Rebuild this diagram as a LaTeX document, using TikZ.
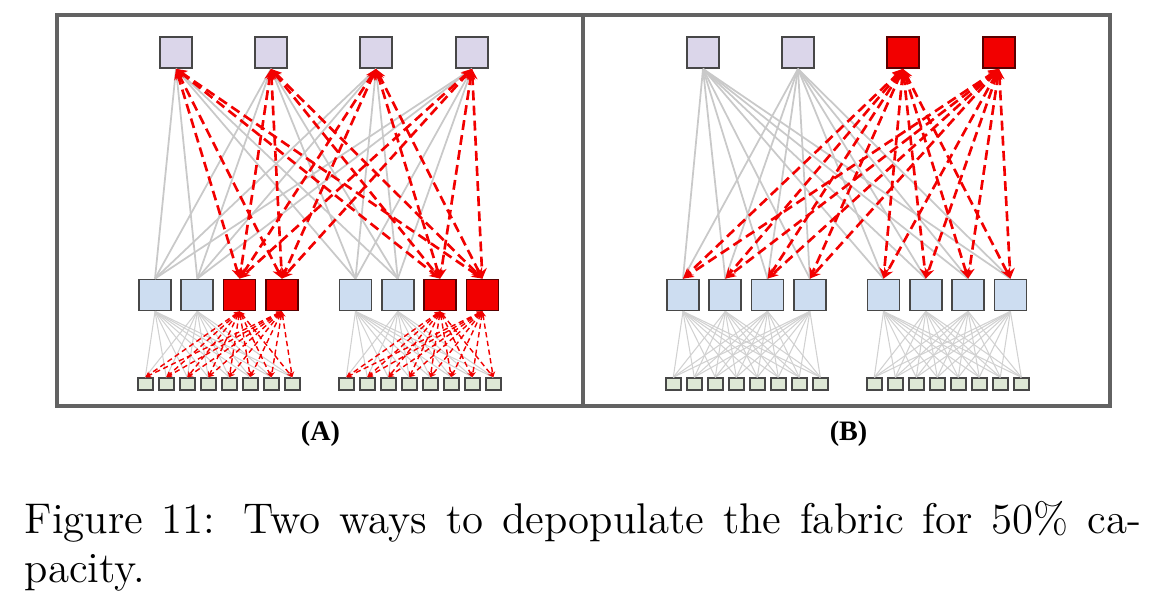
\documentclass[tikz,border=0pt]{standalone}
\usepackage{tikz}
\usepackage{color}
\usepackage{fontspec}
\usetikzlibrary{arrows.meta}
\newfontfamily\panelfont{Liberation Serif}
\definecolor{spinefill}{HTML}{DBD6EA}
\definecolor{leaffill}{HTML}{CDDDF1}
\definecolor{torfill}{HTML}{DEE8D6}
\definecolor{hotred}{HTML}{F20000}
\definecolor{linkgray}{HTML}{C9C9C9}
\definecolor{framegray}{HTML}{626262}

\begin{document}
\begin{tikzpicture}[x=0.01cm, y=-0.01cm,
	box/.style={draw=black!72, line width=0.5pt, rectangle, inner sep=0pt},
	spine/.style={box, minimum width=0.32cm, minimum height=0.31cm, fill=spinefill},
	leaf/.style={box, minimum width=0.32cm, minimum height=0.31cm, fill=leaffill},
	tor/.style={box, line width=0.45pt, minimum width=0.15cm, minimum height=0.12cm, fill=torfill},
	hotbox/.style={fill=hotred, draw=red!35!black},
	uplink/.style={draw=linkgray, line width=0.5pt},
	uplinkhot/.style={draw=hotred, line width=0.75pt, dash pattern=on 2.8pt off 1.5pt, {Stealth[length=3pt,width=2.8pt]}-{Stealth[length=3pt,width=2.8pt]}},
	downlink/.style={draw=linkgray!85, line width=0.3pt},
	downlinkhot/.style={draw=hotred, line width=0.4pt, dash pattern=on 1.5pt off 1pt, {Stealth[length=1.6pt,width=1.6pt]}-{Stealth[length=1.6pt,width=1.6pt]}}]
	\useasboundingbox (0,0) rectangle (1160,614);

	% frames
	\draw[framegray, line width=0.9pt] (57,15) rectangle (1110,406);
	\draw[framegray, line width=0.9pt] (583,15) -- (583,406);

	% (A): half of each leaf switched off
	\foreach \x [count=\i] in {176,271,376,472}
		\node[spine] (sA\i)at(\x, 52.5) {};
	\foreach \p in {0,1} {
		\foreach \i in {1,...,4}
			\node[leaf] (lA\p\i)at(155+42.3*\i-42.3+200.5*\p, 295) {};
		\foreach \i in {1,...,8}
			\node[tor] (tA\p\i)at(145.3+21*\i-21+201*\p, 384) {};
	}
	\foreach \p in {0,1}
		\foreach \i in {3,4}
			\node[leaf, hotbox] at (lA\p\i) {};

	% (B): half of the spines switched off
	\foreach \x [count=\i] in {703,798,903,999}
		\node[spine] (sB\i)at(\x, 52.5) {};
	\foreach \i in {3,4}
		\node[spine, hotbox] at (sB\i) {};
	\foreach \p in {0,1} {
		\foreach \i in {1,...,4}
			\node[leaf] (lB\p\i)at(683+42.3*\i-42.3+200.5*\p, 295) {};
		\foreach \i in {1,...,8}
			\node[tor] (tB\p\i)at(673.3+21*\i-21+201*\p, 384) {};
	}

	% links of (A)
	\foreach \s in {1,...,4}
		\foreach \p in {0,1}
			\foreach \i in {1,2}
				\draw[uplink] (sA\s.south) -- (lA\p\i.north);
	\foreach \p in {0,1}
		\foreach \i in {1,2}
			\foreach \t in {1,...,8}
				\draw[downlink] (lA\p\i.south) -- (tA\p\t.north);
	\foreach \s in {1,...,4}
		\foreach \p in {0,1}
			\foreach \i in {3,4}
				\draw[uplinkhot] (sA\s.south) -- (lA\p\i.north);
	\foreach \p in {0,1}
		\foreach \i in {3,4}
			\foreach \t in {1,...,8}
				\draw[downlinkhot] (lA\p\i.south) -- (tA\p\t.north);

	% links of (B)
	\foreach \s in {1,2}
		\foreach \p in {0,1}
			\foreach \i in {1,...,4}
				\draw[uplink] (sB\s.south) -- (lB\p\i.north);
	\foreach \p in {0,1}
		\foreach \i in {1,...,4}
			\foreach \t in {1,...,8}
				\draw[downlink] (lB\p\i.south) -- (tB\p\t.north);
	\foreach \s in {3,4}
		\foreach \p in {0,1}
			\foreach \i in {1,...,4}
				\draw[uplinkhot] (sB\s.south) -- (lB\p\i.north);

	% panel labels and caption
	\node[font=\panelfont\bfseries\fontsize{8}{9}\selectfont] (labA)at(320.5, 434) {(A)};
	\node[font=\panelfont\bfseries\fontsize{8}{9}\selectfont] (labB)at(848.5, 434) {(B)};
	\node[anchor=base west, inner sep=0pt, text width=11.16cm, align=justify,
		font=\fontsize{12.2}{14}\selectfont] (caption)at(24, 533)
		{Figure 11: Two ways to depopulate the fabric for 50\% ca-\linebreak pacity.};
\end{tikzpicture}
\end{document}
